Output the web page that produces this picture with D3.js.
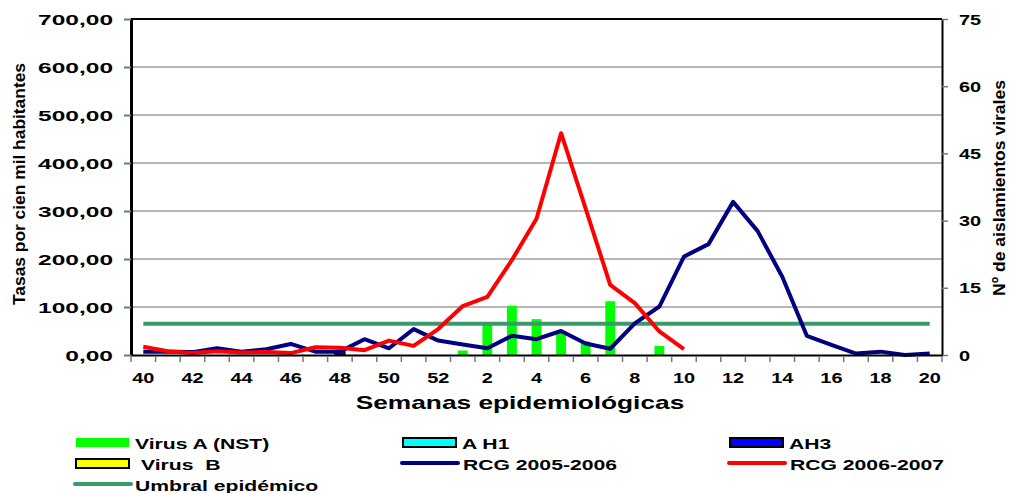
<!DOCTYPE html>
<html>
<head>
	<meta charset="utf-8">
	<script src="https://cdn.jsdelivr.net/npm/d3@7"></script>
	<style>
		html, body {
			padding: 0;
			margin: 0;
			background: #fff;
		}
		text {
			font-family: Arial, "Liberation Sans", sans-serif;
			font-weight: bold;
			fill: #000;
		}
	</style>
</head>
<body>
	<script>
		var width = 1010, height = 493;

		// semanas epidemiologicas (40..52 de un año, 1..20 del siguiente)
		var weeks = ["40", "41", "42", "43", "44", "45", "46", "47", "48", "49", "50", "51", "52",
			"1", "2", "3", "4", "5", "6", "7", "8", "9", "10", "11", "12", "13", "14", "15",
			"16", "17", "18", "19", "20"];
		var weekLabels = ["40", "42", "44", "46", "48", "50", "52", "2", "4", "6", "8", "10",
			"12", "14", "16", "18", "20"];

		// tasas por cien mil habitantes (eje izquierdo)
		var rcg0506 = [7, 7, 6, 14, 7, 12, 23, 7, 7, 33, 14, 54, 30, 22, 14, 40, 33, 50, 24, 13,
			66, 101, 205, 231, 319, 258, 163, 40, 21, 3, 7, 0, 3];
		var rcg0607 = [17, 8, 4, 8, 5, 6, 4, 16, 15, 10, 30, 19, 54, 102, 121, 198, 284, 462,
			305, 146, 108, 49, 12];
		var umbral = 65;

		// aislamientos virales (eje derecho)
		var virusA = [0, 0, 0, 0, 0, 0, 0, 0, 0, 0, 0, 0, 0, 1, 7, 11, 8, 5, 3, 12, 0, 2, 0, 0,
			0, 0, 0, 0, 0, 0, 0, 0, 0];
		var ah1 = [0, 0, 0, 0, 0, 0, 0, 0, 0, 0, 0, 0, 0, 0, 0, 0, 0, 0, 0, 0, 0, 0, 0, 0, 0, 0,
			0, 0, 0, 0, 0, 0, 0];
		var ah3 = [0, 0, 0, 0, 0, 0, 0, 0, 1, 0, 0, 0, 0, 0, 0, 0, 0, 0, 0, 0, 0, 0, 0, 0, 0, 0,
			0, 0, 0, 0, 0, 0, 0];
		var virusB = [0, 0, 0, 0, 0, 0, 0, 0, 0, 0, 0, 0, 0, 0, 0, 0, 0, 0, 0, 0, 0, 0, 0, 0, 0,
			0, 0, 0, 0, 0, 0, 0, 0];

		var leftTicks = [0, 100, 200, 300, 400, 500, 600, 700];
		var rightTicks = [0, 15, 30, 45, 60, 75];

		var plotLeft = 131, plotRight = 942, plotTop = 19, plotBottom = 355;

		var svg = d3.select('body').append('svg')
			.attr('width', width)
			.attr('height', height);

		var x = d3.scaleBand().domain(weeks).range([plotLeft, plotRight]);
		var bw = x.bandwidth();
		var yL = d3.scaleLinear().domain([0, 700]).range([plotBottom, plotTop]);
		var yR = d3.scaleLinear().domain([0, 75]).range([plotBottom, plotTop]);

		/* grid lines */
		svg.append("g").selectAll("line")
			.data(leftTicks.filter(function(d) { return d > 0 && d < 700; }))
			.enter().append("line")
			.attr("x1", plotLeft).attr("x2", plotRight)
			.attr("y1", function(d) { return yL(d); })
			.attr("y2", function(d) { return yL(d); })
			.style("stroke", "#6e6e6e")
			.style("stroke-width", 1);

		/* stacked bars */
		var table = weeks.map(function(w, i) {
			return { week: w, virusA: virusA[i], ah1: ah1[i], ah3: ah3[i], virusB: virusB[i] };
		});
		var keys = ["virusA", "ah1", "ah3", "virusB"];
		var barFill = { virusA: "#00ff00", ah1: "#00ffff", ah3: "#0000ff", virusB: "#ffff00" };
		var barStroke = { virusA: "none", ah1: "#000", ah3: "#000", virusB: "#000" };
		var stacked = d3.stack().keys(keys)(table);

		svg.append("g").selectAll("g")
			.data(stacked)
			.enter().append("g")
			.each(function(s) {
				d3.select(this).selectAll("rect")
					.data(s.filter(function(d) { return d[1] - d[0] > 0; }))
					.enter().append("rect")
					.attr("x", function(d) { return x(d.data.week) + bw * 0.3; })
					.attr("width", bw * 0.4)
					.attr("y", function(d) { return yR(d[1]); })
					.attr("height", function(d) { return yR(d[0]) - yR(d[1]); })
					.style("fill", barFill[s.key])
					.style("stroke", barStroke[s.key])
					.style("stroke-width", 1.5);
			});

		/* umbral epidemico */
		svg.append("line")
			.attr("x1", x(weeks[0]) + bw / 2)
			.attr("x2", x(weeks[weeks.length - 1]) + bw / 2)
			.attr("y1", yL(umbral))
			.attr("y2", yL(umbral))
			.style("stroke", "#3a9a6c")
			.style("stroke-width", 4);

		/* lines */
		var line = d3.line()
			.x(function(d, i) { return x(weeks[i]) + bw / 2; })
			.y(function(d) { return yL(d); });

		svg.append("path")
			.datum(rcg0506)
			.attr("d", line)
			.style("fill", "none")
			.style("stroke", "#000080")
			.style("stroke-width", 4)
			.style("stroke-linejoin", "round");

		svg.append("path")
			.datum(rcg0607)
			.attr("d", line)
			.style("fill", "none")
			.style("stroke", "#ff0000")
			.style("stroke-width", 4)
			.style("stroke-linejoin", "round");

		/* frame: top border */
		svg.append("line")
			.attr("x1", plotLeft).attr("x2", plotRight)
			.attr("y1", plotTop).attr("y2", plotTop)
			.style("stroke", "#000")
			.style("stroke-width", 2);

		/* left axis */
		var gL = svg.append("g")
			.attr("transform", "translate(" + plotLeft + ",0)")
			.call(d3.axisLeft(yL).tickValues(leftTicks).tickSize(7).tickSizeOuter(0)
				.tickFormat(function(d) { return d3.format(".2f")(d).replace(".", ","); }));
		gL.select(".domain").style("stroke", "#000").style("stroke-width", 3);
		gL.selectAll(".tick line").style("stroke", "#777").style("stroke-width", 2);
		gL.selectAll(".tick text")
			.attr("x", 0).attr("dy", null)
			.attr("transform", "translate(-18,5) scale(1.75,1)")
			.style("font-size", "14px")
			.style("font-family", "Arial, 'Liberation Sans', sans-serif");

		/* right axis */
		var gR = svg.append("g")
			.attr("transform", "translate(" + plotRight + ",0)")
			.call(d3.axisRight(yR).tickValues(rightTicks).tickSize(6).tickSizeOuter(0));
		gR.select(".domain").style("stroke", "#000").style("stroke-width", 2);
		gR.selectAll(".tick line").style("stroke", "#777").style("stroke-width", 1.5);
		gR.selectAll(".tick text")
			.attr("x", 0).attr("dy", null)
			.attr("transform", "translate(17,5) scale(1.42,1)")
			.style("font-size", "14px")
			.style("font-family", "Arial, 'Liberation Sans', sans-serif");

		/* bottom axis */
		var gB = svg.append("g")
			.attr("transform", "translate(0," + plotBottom + ")")
			.call(d3.axisBottom(x).tickValues(weekLabels).tickSize(0).tickSizeOuter(0));
		gB.select(".domain").style("stroke", "#000").style("stroke-width", 2);
		gB.selectAll(".tick text")
			.attr("y", 0).attr("dy", null)
			.attr("transform", "translate(0,28) scale(1.42,1)")
			.style("font-size", "14px")
			.style("font-family", "Arial, 'Liberation Sans', sans-serif");

		// tick marks on category boundaries
		var bounds = weeks.map(function(w) { return x(w); }).concat([x.range()[1]]);
		gB.append("g").selectAll("line")
			.data(bounds)
			.enter().append("line")
			.attr("x1", function(d) { return d; })
			.attr("x2", function(d) { return d; })
			.attr("y1", 1).attr("y2", 7)
			.style("stroke", "#777")
			.style("stroke-width", 1.5);

		/* axis titles */
		svg.append("text")
			.attr("transform", "translate(520,409) scale(1.46,1)")
			.attr("text-anchor", "middle")
			.style("font-size", "18px")
			.text("Semanas epidemiológicas");

		svg.append("text")
			.attr("transform", "translate(25,184) rotate(-90)")
			.attr("text-anchor", "middle")
			.attr("textLength", 242)
			.attr("lengthAdjust", "spacingAndGlyphs")
			.style("font-size", "16px")
			.text("Tasas por cien mil habitantes");

		svg.append("text")
			.attr("transform", "translate(1005,188) rotate(-90)")
			.attr("text-anchor", "middle")
			.attr("textLength", 216)
			.attr("lengthAdjust", "spacingAndGlyphs")
			.style("font-size", "17px")
			.text("Nº de aislamientos virales");

		/* legend */
		var legendNames = ["Virus A (NST)", "A H1", "AH3", "Virus  B", "RCG 2005-2006",
			"RCG 2006-2007", "Umbral epidémico"];
		var legendItems = [
			{ type: "rect", fill: "#00ff00", stroke: "none", sx: 76, row: 0, tx: 135 },
			{ type: "rect", fill: "#00ffff", stroke: "#000", sx: 403, row: 0, tx: 462 },
			{ type: "rect", fill: "#0000ff", stroke: "#000", sx: 730, row: 0, tx: 789 },
			{ type: "rect", fill: "#ffff00", stroke: "#000", sx: 76, row: 1, tx: 141 },
			{ type: "line", stroke: "#000080", sx: 402, row: 1, tx: 463 },
			{ type: "line", stroke: "#ff0000", sx: 729, row: 1, tx: 790 },
			{ type: "line", stroke: "#3a9a6c", sx: 75, row: 2, tx: 135 }
		];
		var rowY = [449, 470, 491];

		legendItems.forEach(function(it, i) {
			var base = rowY[it.row];
			if (it.type == "rect") {
				svg.append("rect")
					.attr("x", it.sx).attr("y", base - 11)
					.attr("width", 53).attr("height", 9)
					.style("fill", it.fill)
					.style("stroke", it.stroke)
					.style("stroke-width", 2);
			} else {
				svg.append("line")
					.attr("x1", it.sx).attr("x2", it.sx + 56)
					.attr("y1", base - 7).attr("y2", base - 7)
					.style("stroke", it.stroke)
					.style("stroke-width", 4)
					.style("stroke-linecap", "round");
			}
			svg.append("text")
				.attr("transform", "translate(" + it.tx + "," + base + ") scale(1.41,1)")
				.style("font-size", "15px")
				.style("white-space", "pre")
				.text(legendNames[i]);
		});
	</script>
</body>
</html>
